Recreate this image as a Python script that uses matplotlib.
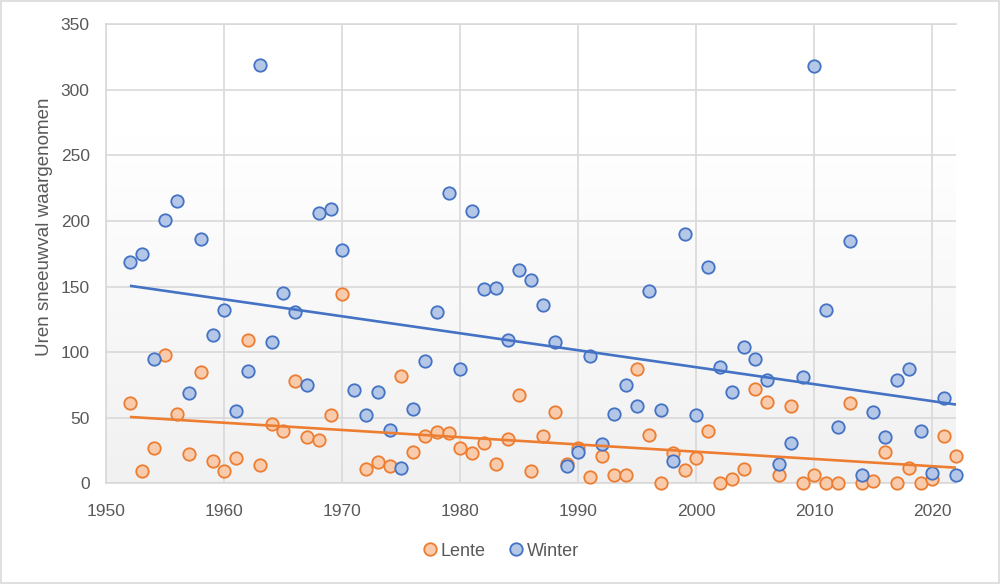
import numpy as np
import matplotlib
matplotlib.use("Agg")
import matplotlib.pyplot as plt
from matplotlib.lines import Line2D
from matplotlib.patches import Rectangle

years = list(range(1952, 2023))

winter = [169, 175, 95, 201, 215, 69, 186, 113, 132, 55,
          86, 319, 108, 145, 131, 75, 206, 209, 178, 71,
          52, 70, 41, 12, 57, 93, 131, 221, 87, 208,
          148, 149, 109, 163, 155, 136, 108, 13, 24, 97,
          30, 53, 75, 59, 147, 56, 17, 190, 52, 165,
          89, 70, 104, 95, 79, 15, 31, 81, 318, 132,
          43, 185, 6, 54, 35, 79, 87, 40, 8, 65, 6]

lente = [61, 9, 27, 98, 53, 22, 85, 17, 9, 19,
         109, 14, 45, 40, 78, 35, 33, 52, 144, np.nan,
         11, 16, 13, 82, 24, 36, 39, 38, 27, 23,
         31, 15, 34, 67, 9, 36, 54, 15, 27, 5,
         21, 6, 6, 87, 37, 0, 23, 10, 19, 40,
         0, 3, 11, 72, 62, 6, 59, 0, 6, 0,
         0, 61, 0, 2, 24, 0, 12, 0, 3, 36, 21]

series_names = ["Lente", "Winter"]
edge_colors = ["#ED7D31", "#4472C4"]
face_colors = ["#F8CBAD", "#B4C7E7"]

plt.rcParams['font.family'] = ['Liberation Sans Narrow', 'Liberation Sans', 'DejaVu Sans']
txt = "#595959"
grid = "#D9D9D9"

fig = plt.figure(figsize=(10, 5.84), dpi=100)
fig.patches.append(Rectangle((0.001, 0.001), 0.998, 0.997, transform=fig.transFigure,
                             fill=False, edgecolor=grid, linewidth=1.2, zorder=0))
ax = fig.add_axes([0.1063, 1 - 483.3 / 584, (956 - 106.3) / 1000, (483.3 - 24.3) / 584])

# background gradient
grad = np.linspace(0, 1, 256).reshape(-1, 1)
vals = np.clip(grad / 0.75, 0, 1)
col_top = np.array([1.0, 1.0, 1.0])
col_bot = np.array([0.945, 0.945, 0.945])
img = col_bot[None, None, :] * (1 - vals[..., None]) + col_top[None, None, :] * vals[..., None]
img = np.clip(img, 0, 1)
ax.imshow(img, extent=[0, 1, 0, 1], transform=ax.transAxes, aspect='auto',
          origin='lower', zorder=0)

x = np.array(years, dtype=float)
data = [np.array(lente, dtype=float), np.array(winter, dtype=float)]

for i, y in enumerate(data):
    ax.scatter(x, y, s=80, facecolor=face_colors[i], edgecolor=edge_colors[i],
               linewidth=1.3, zorder=3 + i, clip_on=False)
    m = ~np.isnan(y)
    k, b = np.polyfit(x[m], y[m], 1)
    xx = np.array([x.min(), x.max()])
    ax.plot(xx, k * xx + b, color=edge_colors[i], linewidth=1.9, zorder=5,
            solid_capstyle='butt')

ax.set_xlim(1950, 2022)
ax.set_ylim(0, 350)
ax.set_xticks(range(1950, 2021, 10))
ax.set_yticks(range(0, 351, 50))
ax.grid(True, color=grid, linewidth=1.2, zorder=1)
ax.set_axisbelow(True)
for sp in ax.spines.values():
    sp.set_color(grid)
    sp.set_linewidth(1.2)
ax.spines['right'].set_visible(False)
ax.tick_params(length=0, labelsize=12.5, labelcolor=txt)
ax.tick_params(axis='x', pad=15)
ax.tick_params(axis='y', pad=12)
ax.set_ylabel("Uren sneeuwval waargenomen", fontsize=13.5, color=txt)
ax.yaxis.set_label_coords(-0.063, 0.56)

handles = [Line2D([], [], marker='o', linestyle='none', markersize=9,
                  markerfacecolor=face_colors[i], markeredgecolor=edge_colors[i],
                  markeredgewidth=1.3, label=series_names[i]) for i in range(2)]
fig.legend(handles=handles, loc='center', bbox_to_anchor=(0.5, 1 - 551 / 584), ncol=2,
           frameon=False, fontsize=13, labelcolor=txt, handletextpad=0.1,
           columnspacing=1.2, handlelength=1.0)

fig.savefig("out.png", dpi=100)
